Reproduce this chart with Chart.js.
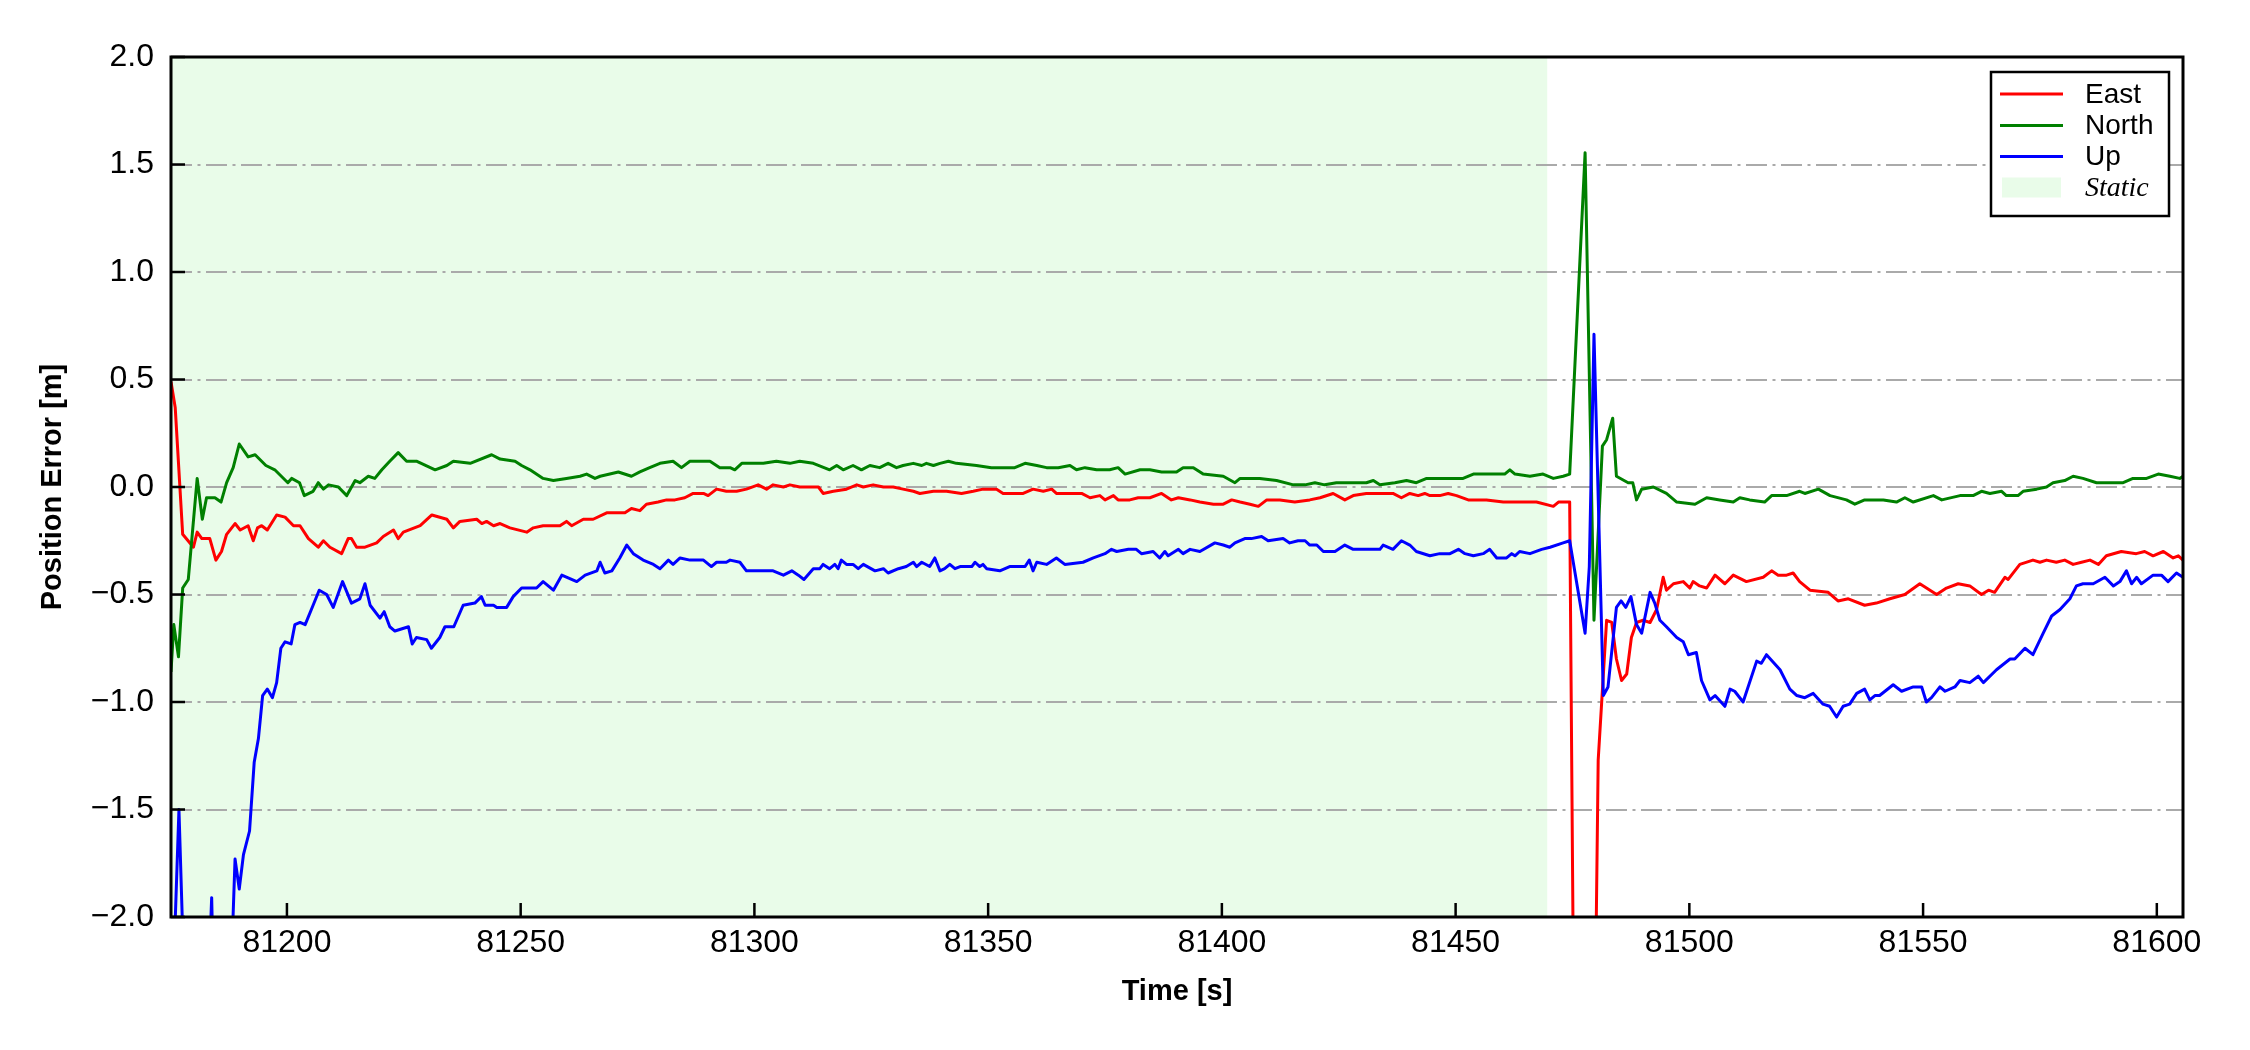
<!DOCTYPE html>
<html>
<head>
<meta charset="utf-8">
<script src="https://cdn.jsdelivr.net/npm/chart.js@4.4.1/dist/chart.umd.min.js"></script>
<style>
  html, body { margin: 0; padding: 0; background: #fff; }
  canvas { display: block; }
</style>
</head>
<body>
<canvas id="mycanvas" width="2250" height="1050"></canvas>
<script>
// [time s, error m]
var eastData = [
  [81175.2, 0.49], [81176.1, 0.37], [81177.7, -0.22], [81180.0, -0.28], [81180.8, -0.21], [81181.8, -0.24],
  [81183.5, -0.24], [81184.8, -0.34], [81186.0, -0.30], [81187.1, -0.22], [81188.9, -0.17], [81190.0, -0.20],
  [81191.7, -0.18], [81192.8, -0.25], [81193.7, -0.19], [81194.6, -0.18], [81195.8, -0.20], [81197.8, -0.13],
  [81199.6, -0.14], [81201.4, -0.18], [81202.8, -0.18], [81204.6, -0.24], [81206.7, -0.28], [81207.8, -0.25],
  [81209.2, -0.28], [81211.7, -0.31], [81213.1, -0.24], [81213.8, -0.24], [81214.9, -0.28], [81216.7, -0.28],
  [81219.2, -0.26], [81220.6, -0.23], [81222.8, -0.20], [81223.8, -0.24], [81224.9, -0.21], [81228.5, -0.18],
  [81231.0, -0.13], [81234.2, -0.15], [81235.6, -0.19], [81237.0, -0.16], [81240.6, -0.15], [81241.7, -0.17],
  [81242.7, -0.16], [81244.2, -0.18], [81245.6, -0.17], [81247.7, -0.19], [81251.3, -0.21], [81252.7, -0.19],
  [81254.8, -0.18], [81258.4, -0.18], [81259.8, -0.16], [81260.9, -0.18], [81263.4, -0.15], [81265.5, -0.15],
  [81268.4, -0.12], [81272.3, -0.12], [81273.7, -0.10], [81275.5, -0.11], [81276.9, -0.08], [81279.4, -0.07],
  [81281.2, -0.06], [81283.0, -0.06], [81285.1, -0.05], [81286.9, -0.03], [81289.1, -0.03], [81290.1, -0.04],
  [81291.9, -0.01], [81294.0, -0.02], [81296.2, -0.02], [81298.3, -0.01], [81300.8, 0.01], [81302.6, -0.01],
  [81304.0, 0.01], [81306.2, 0.00], [81307.6, 0.01], [81309.7, 0.00], [81313.7, 0.00], [81314.7, -0.03],
  [81316.9, -0.02], [81319.7, -0.01], [81321.9, 0.01], [81323.3, 0.00], [81325.4, 0.01], [81327.6, 0.00],
  [81329.7, 0.00], [81331.8, -0.01], [81334.0, -0.02], [81335.4, -0.03], [81338.3, -0.02], [81341.1, -0.02],
  [81344.3, -0.03], [81346.8, -0.02], [81348.9, -0.01], [81351.8, -0.01], [81353.2, -0.03], [81355.4, -0.03],
  [81357.5, -0.03], [81359.6, -0.01], [81361.8, -0.02], [81363.6, -0.01], [81364.6, -0.03], [81368.2, -0.03],
  [81370.0, -0.03], [81371.8, -0.05], [81373.9, -0.04], [81375.0, -0.06], [81376.8, -0.04], [81377.8, -0.06],
  [81380.3, -0.06], [81382.1, -0.05], [81384.6, -0.05], [81387.1, -0.03], [81389.2, -0.06], [81390.7, -0.05],
  [81393.2, -0.06], [81395.3, -0.07], [81398.2, -0.08], [81400.3, -0.08], [81402.1, -0.06], [81403.9, -0.07],
  [81406.0, -0.08], [81407.8, -0.09], [81409.6, -0.06], [81412.4, -0.06], [81415.6, -0.07], [81418.8, -0.06],
  [81421.0, -0.05], [81423.8, -0.03], [81426.3, -0.06], [81428.1, -0.04], [81430.9, -0.03], [81434.5, -0.03],
  [81436.6, -0.03], [81438.4, -0.05], [81440.2, -0.03], [81442.0, -0.04], [81443.4, -0.03], [81444.5, -0.04],
  [81446.6, -0.04], [81448.4, -0.03], [81450.2, -0.04], [81452.7, -0.06], [81456.6, -0.06], [81460.2, -0.07],
  [81463.0, -0.07], [81467.3, -0.07], [81470.9, -0.09], [81472.0, -0.07], [81474.4, -0.07], [81476.0, -4.5],
  [81478.0, -5.0], [81479.0, -4.0], [81480.5, -1.27], [81482.3, -0.62], [81483.4, -0.63], [81484.4, -0.80],
  [81485.5, -0.90], [81486.6, -0.87], [81487.6, -0.70], [81488.7, -0.63], [81490.1, -0.62], [81491.6, -0.63],
  [81493.0, -0.57], [81494.4, -0.42], [81495.1, -0.48], [81496.6, -0.45], [81498.7, -0.44], [81500.1, -0.47],
  [81500.8, -0.44], [81502.2, -0.46], [81503.7, -0.47], [81505.5, -0.41], [81507.6, -0.45], [81509.4, -0.41],
  [81512.2, -0.44], [81515.8, -0.42], [81517.6, -0.39], [81519.0, -0.41], [81520.8, -0.41], [81522.2, -0.40],
  [81523.6, -0.44], [81525.8, -0.48], [81529.7, -0.49], [81531.8, -0.53], [81534.0, -0.52], [81537.5, -0.55],
  [81540.0, -0.54], [81542.9, -0.52], [81546.1, -0.50], [81549.3, -0.45], [81552.9, -0.50], [81555.0, -0.47],
  [81557.5, -0.45], [81560.0, -0.46], [81562.5, -0.50], [81564.0, -0.48], [81565.3, -0.49], [81567.5, -0.42],
  [81568.2, -0.43], [81570.7, -0.36], [81573.5, -0.34], [81575.0, -0.35], [81576.4, -0.34], [81578.5, -0.35],
  [81580.3, -0.34], [81582.1, -0.36], [81583.9, -0.35], [81585.7, -0.34], [81587.5, -0.36], [81589.2, -0.32],
  [81592.4, -0.30], [81595.6, -0.31], [81597.4, -0.30], [81599.2, -0.32], [81601.4, -0.30], [81603.5, -0.33],
  [81604.6, -0.32], [81605.6, -0.34]
];

var northData = [
  [81175.2, -0.86], [81175.8, -0.64], [81176.8, -0.79], [81177.7, -0.47], [81178.9, -0.43], [81180.8, 0.04],
  [81181.9, -0.15], [81182.8, -0.05], [81184.6, -0.05], [81185.9, -0.07], [81187.1, 0.02], [81188.5, 0.09],
  [81189.8, 0.20], [81191.7, 0.14], [81193.2, 0.15], [81195.5, 0.10], [81197.4, 0.08], [81200.2, 0.02],
  [81201.0, 0.04], [81202.7, 0.02], [81203.7, -0.04], [81205.6, -0.02], [81206.7, 0.02], [81207.8, -0.01],
  [81208.9, 0.01], [81211.0, 0.00], [81212.8, -0.04], [81214.6, 0.03], [81215.6, 0.02], [81217.4, 0.05],
  [81218.8, 0.04], [81220.3, 0.08], [81222.0, 0.12], [81223.8, 0.16], [81225.6, 0.12], [81227.7, 0.12],
  [81231.7, 0.08], [81234.2, 0.10], [81235.6, 0.12], [81239.2, 0.11], [81243.8, 0.15], [81245.6, 0.13],
  [81248.8, 0.12], [81250.2, 0.10], [81252.0, 0.08], [81254.8, 0.04], [81257.0, 0.03], [81259.8, 0.04],
  [81262.7, 0.05], [81264.1, 0.06], [81265.9, 0.04], [81267.0, 0.05], [81270.9, 0.07], [81273.7, 0.05],
  [81275.5, 0.07], [81277.6, 0.09], [81279.8, 0.11], [81282.6, 0.12], [81284.4, 0.09], [81286.2, 0.12],
  [81288.3, 0.12], [81290.5, 0.12], [81292.6, 0.09], [81294.8, 0.09], [81295.8, 0.08], [81297.3, 0.11],
  [81299.7, 0.11], [81301.9, 0.11], [81304.7, 0.12], [81307.6, 0.11], [81309.7, 0.12], [81312.6, 0.11],
  [81316.1, 0.08], [81317.6, 0.10], [81319.0, 0.08], [81321.1, 0.10], [81322.9, 0.08], [81324.7, 0.10],
  [81326.8, 0.09], [81328.6, 0.11], [81330.4, 0.09], [81331.8, 0.10], [81334.0, 0.11], [81335.8, 0.10],
  [81336.8, 0.11], [81338.3, 0.10], [81339.7, 0.11], [81341.5, 0.12], [81343.2, 0.11], [81347.5, 0.10],
  [81350.7, 0.09], [81353.9, 0.09], [81355.7, 0.09], [81357.9, 0.11], [81360.4, 0.10], [81362.5, 0.09],
  [81365.0, 0.09], [81367.5, 0.10], [81368.9, 0.08], [81370.7, 0.09], [81373.2, 0.08], [81376.0, 0.08],
  [81377.8, 0.09], [81379.3, 0.06], [81382.5, 0.08], [81384.6, 0.08], [81387.1, 0.07], [81390.3, 0.07],
  [81391.7, 0.09], [81393.9, 0.09], [81396.0, 0.06], [81400.3, 0.05], [81402.8, 0.02], [81403.9, 0.04],
  [81408.1, 0.04], [81411.7, 0.03], [81415.3, 0.01], [81417.8, 0.01], [81419.9, 0.02], [81422.0, 0.01],
  [81424.5, 0.02], [81427.4, 0.02], [81430.9, 0.02], [81432.4, 0.03], [81433.8, 0.01], [81437.0, 0.02],
  [81439.5, 0.03], [81441.6, 0.02], [81443.8, 0.04], [81446.3, 0.04], [81448.4, 0.04], [81451.6, 0.04],
  [81453.8, 0.06], [81456.6, 0.06], [81458.0, 0.06], [81460.5, 0.06], [81461.6, 0.08], [81462.7, 0.06],
  [81465.9, 0.05], [81468.7, 0.06], [81470.9, 0.04], [81473.0, 0.05], [81474.4, 0.06], [81477.7, 1.555],
  [81479.6, -0.62], [81481.4, 0.19], [81482.3, 0.22], [81483.6, 0.32], [81484.4, 0.05], [81486.9, 0.02],
  [81487.9, 0.02], [81488.7, -0.06], [81489.8, -0.01], [81492.3, 0.00], [81495.1, -0.03], [81497.3, -0.07],
  [81501.2, -0.08], [81503.7, -0.05], [81506.5, -0.06], [81509.4, -0.07], [81510.8, -0.05], [81512.9, -0.06],
  [81516.1, -0.07], [81517.6, -0.04], [81520.8, -0.04], [81523.6, -0.02], [81524.7, -0.03], [81527.6, -0.01],
  [81530.1, -0.04], [81533.6, -0.06], [81535.4, -0.08], [81537.5, -0.06], [81541.5, -0.06], [81544.3, -0.07],
  [81546.1, -0.05], [81547.9, -0.07], [81552.2, -0.04], [81554.0, -0.06], [81557.9, -0.04], [81560.7, -0.04],
  [81562.5, -0.02], [81564.3, -0.03], [81566.8, -0.02], [81567.8, -0.04], [81570.3, -0.04], [81571.4, -0.02],
  [81574.3, -0.01], [81576.4, 0.00], [81577.8, 0.02], [81580.3, 0.03], [81582.1, 0.05], [81584.2, 0.04],
  [81587.1, 0.02], [81589.2, 0.02], [81592.8, 0.02], [81594.9, 0.04], [81597.8, 0.04], [81600.3, 0.06],
  [81602.8, 0.05], [81604.9, 0.04], [81605.6, 0.05]
];

var upData = [
  [81175.2, -2.6], [81176.9, -1.50], [81179.0, -3.0], [81182.0, -3.0], [81183.9, -1.91], [81185.0, -3.0],
  [81188.0, -2.3], [81188.9, -1.73], [81189.8, -1.87], [81190.7, -1.71], [81192.0, -1.60], [81193.0, -1.28],
  [81193.9, -1.17], [81194.8, -0.97], [81195.8, -0.94], [81196.9, -0.98], [81197.8, -0.91], [81198.7, -0.75],
  [81199.6, -0.72], [81200.9, -0.73], [81201.7, -0.64], [81202.8, -0.63], [81203.9, -0.64], [81205.6, -0.55],
  [81206.9, -0.48], [81208.5, -0.50], [81209.9, -0.56], [81211.9, -0.44], [81213.8, -0.54], [81215.6, -0.52],
  [81216.7, -0.45], [81217.8, -0.55], [81219.9, -0.61], [81220.8, -0.58], [81222.0, -0.65], [81223.1, -0.67],
  [81226.0, -0.65], [81226.8, -0.73], [81227.7, -0.70], [81229.9, -0.71], [81230.9, -0.75], [81232.7, -0.70],
  [81233.8, -0.65], [81235.7, -0.65], [81237.7, -0.55], [81240.2, -0.54], [81241.6, -0.51], [81242.4, -0.55],
  [81244.2, -0.55], [81244.9, -0.56], [81247.0, -0.56], [81248.4, -0.51], [81250.2, -0.47], [81253.4, -0.47],
  [81254.8, -0.44], [81257.0, -0.48], [81258.8, -0.41], [81262.0, -0.44], [81263.8, -0.41], [81266.3, -0.39],
  [81267.0, -0.35], [81268.0, -0.40], [81269.5, -0.39], [81271.2, -0.33], [81272.7, -0.27], [81274.1, -0.31],
  [81276.2, -0.34], [81278.4, -0.36], [81279.8, -0.38], [81281.6, -0.34], [81282.6, -0.36], [81284.1, -0.33],
  [81286.2, -0.34], [81289.1, -0.34], [81290.8, -0.37], [81291.9, -0.35], [81294.0, -0.35], [81294.8, -0.34],
  [81296.9, -0.35], [81298.3, -0.39], [81301.2, -0.39], [81304.0, -0.39], [81306.2, -0.41], [81308.0, -0.39],
  [81309.4, -0.41], [81310.6, -0.43], [81312.6, -0.38], [81314.0, -0.38], [81314.7, -0.36], [81316.1, -0.38],
  [81317.2, -0.36], [81317.9, -0.38], [81318.6, -0.34], [81319.7, -0.36], [81321.1, -0.36], [81322.2, -0.38],
  [81323.3, -0.36], [81325.8, -0.39], [81327.6, -0.38], [81328.6, -0.40], [81330.8, -0.38], [81332.5, -0.37],
  [81334.0, -0.35], [81334.7, -0.37], [81335.8, -0.35], [81337.5, -0.37], [81338.6, -0.33], [81339.7, -0.39],
  [81340.7, -0.38], [81341.8, -0.36], [81342.9, -0.38], [81344.0, -0.37], [81346.5, -0.37], [81347.2, -0.35],
  [81348.2, -0.37], [81348.9, -0.36], [81349.7, -0.38], [81352.5, -0.39], [81354.6, -0.37], [81357.9, -0.37],
  [81358.8, -0.34], [81359.6, -0.39], [81360.4, -0.35], [81362.5, -0.36], [81364.6, -0.33], [81366.4, -0.36],
  [81370.3, -0.35], [81372.5, -0.33], [81375.0, -0.31], [81376.4, -0.29], [81377.5, -0.30], [81380.0, -0.29],
  [81381.7, -0.29], [81382.8, -0.31], [81385.3, -0.30], [81386.7, -0.33], [81387.8, -0.30], [81388.5, -0.32],
  [81390.7, -0.29], [81391.7, -0.31], [81393.2, -0.29], [81395.3, -0.30], [81398.5, -0.26], [81400.3, -0.27],
  [81401.7, -0.28], [81402.8, -0.26], [81404.9, -0.24], [81406.3, -0.24], [81408.5, -0.23], [81409.9, -0.25],
  [81413.1, -0.24], [81414.5, -0.26], [81416.3, -0.25], [81417.8, -0.25], [81418.8, -0.27], [81420.3, -0.27],
  [81421.7, -0.30], [81424.2, -0.30], [81426.3, -0.27], [81428.1, -0.29], [81430.9, -0.29], [81433.8, -0.29],
  [81434.5, -0.27], [81436.6, -0.29], [81438.4, -0.25], [81440.2, -0.27], [81441.6, -0.30], [81444.5, -0.32],
  [81446.6, -0.31], [81448.8, -0.31], [81450.6, -0.29], [81452.0, -0.31], [81453.8, -0.32], [81455.9, -0.31],
  [81457.3, -0.29], [81458.8, -0.33], [81460.9, -0.33], [81462.0, -0.31], [81462.7, -0.32], [81463.7, -0.30],
  [81465.9, -0.31], [81468.4, -0.29], [81470.2, -0.28], [81473.0, -0.26], [81474.4, -0.25], [81477.7, -0.68],
  [81478.6, -0.37], [81479.6, 0.71], [81481.6, -0.97], [81482.6, -0.93], [81484.4, -0.56], [81485.4, -0.53],
  [81486.4, -0.56], [81487.5, -0.51], [81488.7, -0.64], [81489.8, -0.68], [81491.6, -0.49], [81492.6, -0.54],
  [81493.7, -0.62], [81495.1, -0.65], [81497.3, -0.70], [81498.7, -0.72], [81499.8, -0.78], [81501.5, -0.77],
  [81502.6, -0.90], [81504.4, -0.99], [81505.5, -0.97], [81507.6, -1.02], [81508.7, -0.94], [81509.7, -0.95],
  [81511.5, -1.00], [81514.4, -0.81], [81515.4, -0.82], [81516.5, -0.78], [81519.4, -0.85], [81521.5, -0.94],
  [81523.0, -0.97], [81524.7, -0.98], [81526.5, -0.96], [81528.6, -1.01], [81530.0, -1.02], [81531.5, -1.07],
  [81532.9, -1.02], [81534.3, -1.01], [81535.8, -0.96], [81537.5, -0.94], [81538.6, -0.99], [81539.7, -0.97],
  [81540.7, -0.97], [81543.6, -0.92], [81545.4, -0.95], [81547.9, -0.93], [81549.7, -0.93], [81550.7, -1.00],
  [81551.8, -0.98], [81553.6, -0.93], [81554.7, -0.95], [81556.8, -0.93], [81557.9, -0.90], [81560.0, -0.91],
  [81561.8, -0.88], [81562.9, -0.91], [81565.7, -0.85], [81568.6, -0.80], [81569.6, -0.80], [81571.8, -0.75],
  [81573.5, -0.78], [81575.7, -0.68], [81577.5, -0.60], [81579.3, -0.57], [81581.4, -0.52], [81582.8, -0.46],
  [81584.2, -0.45], [81586.4, -0.45], [81588.9, -0.42], [81590.7, -0.46], [81592.1, -0.44], [81593.5, -0.39],
  [81594.6, -0.45], [81595.7, -0.42], [81596.7, -0.45], [81599.2, -0.41], [81601.0, -0.41], [81602.4, -0.44],
  [81604.2, -0.40], [81605.6, -0.42]
];

var seriesNames = ['East', 'North', 'Up'];
var seriesColors = ['#ff0000', '#008000', '#0000ff'];
var staticLabel = 'Static';
var staticSpan = [81175.2, 81469.6];
var xRange = [81175.2, 81605.6];
var yRange = [-2, 2];
var xTicks = [81200, 81250, 81300, 81350, 81400, 81450, 81500, 81550, 81600];
var yTicks = [-2.0, -1.5, -1.0, -0.5, 0.0, 0.5, 1.0, 1.5, 2.0];

var SANS = '"Liberation Sans", Arial, Helvetica, sans-serif';
var SERIF = '"Liberation Serif", "Times New Roman", serif';
var staticFill = 'rgb(233,252,233)';

function toXY(rows) {
  return rows.map(function(r) { return { x: r[0], y: r[1] }; });
}

// green band for the static period, under the grid
var staticBand = {
  id: 'staticBand',
  beforeDraw: function(chart) {
    var ctx = chart.ctx, a = chart.chartArea, xs = chart.scales.x;
    var x0 = Math.max(a.left, xs.getPixelForValue(staticSpan[0]));
    var x1 = xs.getPixelForValue(staticSpan[1]);
    ctx.save();
    ctx.fillStyle = staticFill;
    ctx.fillRect(x0, a.top, x1 - x0, a.bottom - a.top);
    ctx.restore();
  }
};

// box round the plot + inward tick marks
var frameTicks = {
  id: 'frameTicks',
  afterDraw: function(chart) {
    var ctx = chart.ctx, a = chart.chartArea;
    var xs = chart.scales.x, ys = chart.scales.y;
    ctx.save();
    ctx.strokeStyle = '#000';
    ctx.lineWidth = 2.5;
    ctx.beginPath();
    xTicks.forEach(function(v) {
      var px = xs.getPixelForValue(v);
      ctx.moveTo(px, a.bottom);
      ctx.lineTo(px, a.bottom - 14);
    });
    yTicks.forEach(function(v) {
      var py = ys.getPixelForValue(v);
      ctx.moveTo(a.left, py);
      ctx.lineTo(a.left + 14, py);
    });
    ctx.stroke();
    ctx.lineWidth = 3;
    ctx.strokeRect(a.left, a.top, a.right - a.left, a.bottom - a.top);
    ctx.restore();
  }
};

// legend box in the upper right corner of the plot
var cornerLegend = {
  id: 'cornerLegend',
  afterDraw: function(chart) {
    var ctx = chart.ctx, a = chart.chartArea;
    var w = 178, h = 144;
    var left = a.right - 14 - w, top = a.top + 15;
    var rows = [22, 53.5, 84.5, 115.5];
    ctx.save();
    ctx.fillStyle = '#fff';
    ctx.fillRect(left, top, w, h);
    ctx.lineWidth = 2.5;
    ctx.strokeStyle = '#000';
    ctx.strokeRect(left, top, w, h);
    ctx.textBaseline = 'middle';
    ctx.textAlign = 'left';
    for (var i = 0; i < seriesNames.length; i++) {
      var y = top + rows[i];
      ctx.strokeStyle = seriesColors[i];
      ctx.lineWidth = 3;
      ctx.beginPath();
      ctx.moveTo(left + 9, y);
      ctx.lineTo(left + 72, y);
      ctx.stroke();
      ctx.fillStyle = '#000';
      ctx.font = '28px ' + SANS;
      ctx.fillText(seriesNames[i], left + 94, y + 1);
    }
    var ys = top + rows[3];
    ctx.fillStyle = staticFill;
    ctx.fillRect(left + 11, ys - 10, 59, 20);
    ctx.fillStyle = '#000';
    ctx.font = 'italic 28px ' + SERIF;
    ctx.fillText(staticLabel, left + 94, ys + 1);
    ctx.restore();
  }
};

var ctx = document.getElementById('mycanvas').getContext('2d');

var chart = new Chart(ctx, {
  type: 'line',
  data: {
    datasets: [
      { label: seriesNames[0], data: toXY(eastData), borderColor: seriesColors[0], order: 2 },
      { label: seriesNames[1], data: toXY(northData), borderColor: seriesColors[1], order: 1 },
      { label: seriesNames[2], data: toXY(upData), borderColor: seriesColors[2], order: 0 }
    ]
  },
  options: {
    responsive: false,
    animation: false,
    devicePixelRatio: 1,
    events: [],
    layout: { padding: { top: 57, right: 67, left: 0, bottom: 0 } },
    elements: {
      line: { borderWidth: 3, tension: 0, fill: false, borderJoinStyle: 'round' },
      point: { radius: 0 }
    },
    datasets: { line: { clip: 0 } },
    plugins: { legend: { display: false }, tooltip: { enabled: false } },
    scales: {
      x: {
        type: 'linear',
        min: xRange[0],
        max: xRange[1],
        afterBuildTicks: function(s) { s.ticks = xTicks.map(function(v) { return { value: v }; }); },
        afterFit: function(s) { s.height = 133; },
        grid: { display: false, drawTicks: false },
        border: { display: false },
        ticks: {
          color: '#000',
          font: { family: SANS, size: 32 },
          padding: 7,
          maxRotation: 0,
          autoSkip: false,
          callback: function(v) { return String(v); }
        },
        title: {
          display: true,
          text: 'Time [s]',
          color: '#000',
          font: { family: SANS, size: 29, weight: 'bold' },
          padding: { top: 0, bottom: 41 }
        }
      },
      y: {
        type: 'linear',
        min: yRange[0],
        max: yRange[1],
        afterBuildTicks: function(s) { s.ticks = yTicks.map(function(v) { return { value: v }; }); },
        afterFit: function(s) { s.width = 171; },
        grid: {
          drawTicks: false,
          lineWidth: 2,
          color: function(c) {
            var v = c.tick ? c.tick.value : 0;
            return (Math.abs(v) > 1.99) ? 'rgba(0,0,0,0)' : '#aaaaaa';
          }
        },
        border: { display: false, dash: [21, 5.5, 3, 5.5] },
        ticks: {
          color: '#000',
          font: { family: SANS, size: 32 },
          padding: 17,
          callback: function(v) {
            return (v < 0 ? '\u2212' : '') + Math.abs(v).toFixed(1);
          }
        },
        title: {
          display: true,
          text: 'Position Error [m]',
          color: '#000',
          font: { family: SANS, size: 29, weight: 'bold' },
          padding: { top: 36, bottom: 0 }
        }
      }
    }
  },
  plugins: [staticBand, frameTicks, cornerLegend]
});
</script>
</body>
</html>
